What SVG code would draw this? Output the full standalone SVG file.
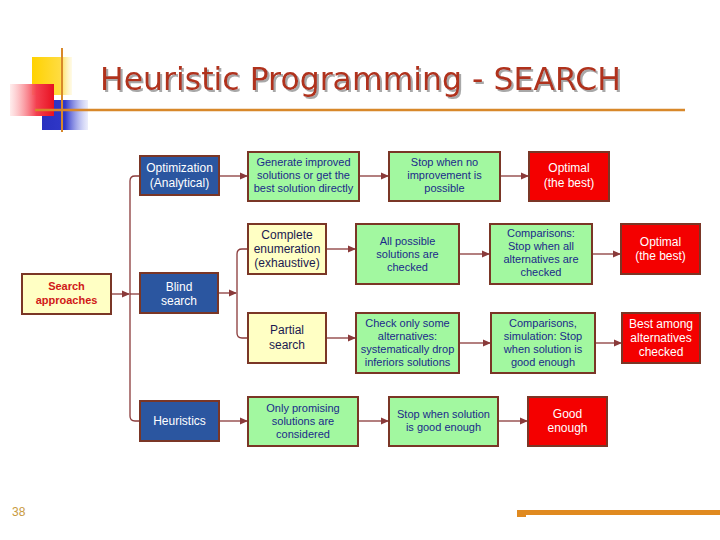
<svg xmlns="http://www.w3.org/2000/svg" width="720" height="540" viewBox="0 0 720 540">
<defs>
<linearGradient id="gy" x1="0" y1="0" x2="1" y2="0"><stop offset="0" stop-color="#FFD200"/><stop offset="0.7" stop-color="#FFDC40"/><stop offset="1" stop-color="#FFF0B0" stop-opacity="0.3"/></linearGradient>
<linearGradient id="gr" x1="0" y1="0" x2="1" y2="0"><stop offset="0" stop-color="#FFE0E0" stop-opacity="0.6"/><stop offset="0.6" stop-color="#F44050"/><stop offset="1" stop-color="#E81020"/></linearGradient>
<linearGradient id="gb" x1="0" y1="0" x2="1" y2="0"><stop offset="0" stop-color="#2830C0"/><stop offset="0.5" stop-color="#3038C8"/><stop offset="1" stop-color="#A0A8F0" stop-opacity="0.2"/></linearGradient>
<filter id="tsh" x="-5%" y="-20%" width="110%" height="150%"><feOffset in="SourceAlpha" dx="2" dy="2" result="o"/><feFlood flood-color="#A8A8A8"/><feComposite in2="o" operator="in" result="s"/><feMerge><feMergeNode in="s"/><feMergeNode in="SourceGraphic"/></feMerge></filter>
<marker id="ah" markerWidth="8" markerHeight="8" refX="7" refY="4" orient="auto" markerUnits="userSpaceOnUse"><path d="M0,0.5 L8,4 L0,7.5 Z" fill="#8A3A3A"/></marker>
<style>
.n rect{stroke:#7A3626;stroke-width:2}
.y{fill:#FFFFC4}
.g{fill:#A2F8A0}
.b{fill:#2B56A0}
.r{fill:#F40000}
text{font-family:"Liberation Sans",Arial,sans-serif;font-size:11px;text-anchor:middle}
.tw{fill:#FFFFFF;font-size:12px}
.tg{fill:#1A2A8A}
.ty{fill:#1A1A50;font-size:12px}
.c{stroke:#8A3A3A;stroke-width:1.3;fill:none}
</style>
</defs>
<rect width="720" height="540" fill="#FFFFFF"/>
<g id="logo">
<rect x="32" y="57" width="40" height="38" fill="url(#gy)"/>
<rect x="42" y="100" width="46" height="30" fill="url(#gb)"/>
<rect x="10" y="84" width="44" height="32" fill="url(#gr)"/>
<line x1="62" y1="48" x2="62" y2="132" stroke="#D8882A" stroke-width="2"/>
<line x1="35" y1="110" x2="685" y2="110" stroke="#D8882A" stroke-width="2.5"/>
</g>
<g id="title" filter="url(#tsh)">
<text x="100" y="90" style="font-family:'DejaVu Sans',Verdana,sans-serif;font-size:32px;text-anchor:start;fill:#B0301A" textLength="521" lengthAdjust="spacingAndGlyphs">Heuristic Programming - SEARCH</text>
</g>
<g id="connectors">
<line class="c" x1="111" y1="294" x2="129" y2="294" marker-end="url(#ah)"/>
<path class="c" d="M140,176 H135 Q130,176 130,181 V416 Q130,421 135,421 H140"/>
<line class="c" x1="130" y1="294" x2="140" y2="294"/>
<line class="c" x1="219" y1="176" x2="247" y2="176" marker-end="url(#ah)"/>
<line class="c" x1="359" y1="176" x2="388" y2="176" marker-end="url(#ah)"/>
<line class="c" x1="500" y1="176" x2="528" y2="176" marker-end="url(#ah)"/>
<line class="c" x1="218" y1="293" x2="236" y2="293" marker-end="url(#ah)"/>
<path class="c" d="M248,249 H242 Q237,249 237,254 V333 Q237,338 242,338 H248"/>
<line class="c" x1="326" y1="249" x2="355" y2="249" marker-end="url(#ah)"/>
<line class="c" x1="459" y1="254" x2="489" y2="254" marker-end="url(#ah)"/>
<line class="c" x1="592" y1="254" x2="620" y2="254" marker-end="url(#ah)"/>
<line class="c" x1="326" y1="338" x2="355" y2="338" marker-end="url(#ah)"/>
<line class="c" x1="459" y1="343" x2="490" y2="343" marker-end="url(#ah)"/>
<line class="c" x1="595" y1="343" x2="621" y2="343" marker-end="url(#ah)"/>
<line class="c" x1="219" y1="421" x2="247" y2="421" marker-end="url(#ah)"/>
<line class="c" x1="358" y1="421" x2="388" y2="421" marker-end="url(#ah)"/>
<line class="c" x1="498" y1="421" x2="527" y2="421" marker-end="url(#ah)"/>
</g>
<g id="n-search" class="n"><rect class="y" x="22" y="274" width="89" height="40"/><text x="66.5" y="290" style="fill:#D01818;font-weight:bold">Search</text><text x="66.5" y="304" style="fill:#D01818;font-weight:bold">approaches</text></g>
<g id="n-opt" class="n"><rect class="b" x="140" y="156" width="79" height="39"/><text class="tw" x="179.5" y="172">Optimization</text><text class="tw" x="179.5" y="187">(Analytical)</text></g>
<g id="n-blind" class="n"><rect class="b" x="140" y="273" width="78" height="40"/><text class="tw" x="179" y="291">Blind</text><text class="tw" x="179" y="305">search</text></g>
<g id="n-heur" class="n"><rect class="b" x="140" y="401" width="79" height="40"/><text class="tw" x="179.5" y="425">Heuristics</text></g>
<g id="n-gen" class="n"><rect class="g" x="248" y="152" width="111" height="49"/><text class="tg" x="303.5" y="166">Generate improved</text><text class="tg" x="303.5" y="179">solutions or get the</text><text class="tg" x="303.5" y="192">best solution directly</text></g>
<g id="n-stop1" class="n"><rect class="g" x="389" y="152" width="111" height="49"/><text class="tg" x="444.5" y="166">Stop when no</text><text class="tg" x="444.5" y="179">improvement is</text><text class="tg" x="444.5" y="192">possible</text></g>
<g id="n-opt1" class="n"><rect class="r" x="529" y="152" width="80" height="49"/><text class="tw" x="569" y="172">Optimal</text><text class="tw" x="569" y="187">(the best)</text></g>
<g id="n-comp" class="n"><rect class="y" x="248" y="224" width="78" height="50"/><text class="ty" x="287" y="239">Complete</text><text class="ty" x="287" y="253">enumeration</text><text class="ty" x="287" y="267">(exhaustive)</text></g>
<g id="n-all" class="n"><rect class="g" x="356" y="224" width="103" height="60"/><text class="tg" x="407.5" y="245">All possible</text><text class="tg" x="407.5" y="258">solutions are</text><text class="tg" x="407.5" y="271">checked</text></g>
<g id="n-cmp1" class="n"><rect class="g" x="490" y="224" width="102" height="60"/><text class="tg" x="541" y="237">Comparisons:</text><text class="tg" x="541" y="250">Stop when all</text><text class="tg" x="541" y="263">alternatives are</text><text class="tg" x="541" y="276">checked</text></g>
<g id="n-opt2" class="n"><rect class="r" x="621" y="224" width="79" height="50"/><text class="tw" x="660.5" y="246">Optimal</text><text class="tw" x="660.5" y="260">(the best)</text></g>
<g id="n-part" class="n"><rect class="y" x="248" y="313" width="78" height="50"/><text class="ty" x="287" y="334">Partial</text><text class="ty" x="287" y="349">search</text></g>
<g id="n-check" class="n"><rect class="g" x="356" y="313" width="103" height="60"/><text class="tg" x="407.5" y="327">Check only some</text><text class="tg" x="407.5" y="340">alternatives:</text><text class="tg" x="407.5" y="353">systematically drop</text><text class="tg" x="407.5" y="366">inferiors solutions</text></g>
<g id="n-cmp2" class="n"><rect class="g" x="491" y="313" width="104" height="60"/><text class="tg" x="543" y="327">Comparisons,</text><text class="tg" x="543" y="340">simulation: Stop</text><text class="tg" x="543" y="353">when solution is</text><text class="tg" x="543" y="366">good enough</text></g>
<g id="n-best" class="n"><rect class="r" x="622" y="313" width="78" height="50"/><text class="tw" x="661" y="328">Best among</text><text class="tw" x="661" y="342">alternatives</text><text class="tw" x="661" y="356">checked</text></g>
<g id="n-only" class="n"><rect class="g" x="248" y="397" width="110" height="49"/><text class="tg" x="303" y="412">Only promising</text><text class="tg" x="303" y="425">solutions are</text><text class="tg" x="303" y="438">considered</text></g>
<g id="n-stop2" class="n"><rect class="g" x="389" y="397" width="109" height="49"/><text class="tg" x="443.5" y="418">Stop when solution</text><text class="tg" x="443.5" y="431">is good enough</text></g>
<g id="n-good" class="n"><rect class="r" x="528" y="397" width="79" height="49"/><text class="tw" x="567.5" y="418">Good</text><text class="tw" x="567.5" y="432">enough</text></g>
<g id="footer">
<text x="12" y="516" style="text-anchor:start;font-size:12px;fill:#C89A40">38</text>
<rect x="517" y="510" width="203" height="5" fill="#E08A20"/>
<rect x="517" y="514" width="9" height="3" fill="#E08A20"/>
</g>
</svg>
